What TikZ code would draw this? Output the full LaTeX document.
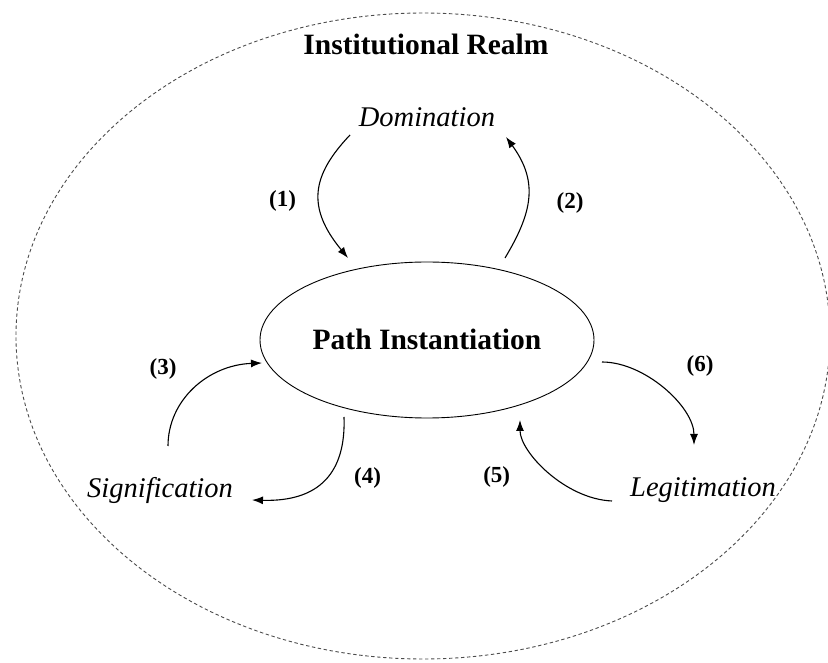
\documentclass[tikz,border=0pt]{standalone}
\usepackage{fontspec}
\setmainfont{Liberation Serif}
\usetikzlibrary{shapes.geometric,arrows.meta}
\begin{document}
\begin{tikzpicture}[x=1pt,y=1pt,
  realm/.style={ellipse,draw=black!70,dash pattern=on 3.4pt off 2.6pt,line width=0.9pt,
    minimum width=814pt,minimum height=646pt,inner sep=0pt},
  core/.style={ellipse,draw,line width=0.9pt,minimum width=334pt,minimum height=156pt,inner sep=0pt},
  heading/.style={font=\fontsize{29.5}{34}\selectfont\bfseries,anchor=base,inner sep=0pt},
  facet/.style={font=\fontsize{28.5}{34}\selectfont\itshape,anchor=base,inner sep=0pt},
  num/.style={font=\fontsize{23}{27}\selectfont\bfseries,inner sep=0pt},
  flow/.style={line width=1.1pt,-{Latex[length=11pt,width=8pt]}}]
\useasboundingbox (0,0) rectangle (828,662);

% outer realm and central process
\node[realm] (realm) at (423,326) {};
\node[core] (pi) at (427,322) {};
\node[heading] (title) at (426,607) {Institutional Realm};
\node[heading] (pitext) at (427,312) {Path Instantiation};

% the three structural facets
\node[facet] (dom) at (427,535) {Domination};
\node[facet] (sig) at (160,164) {Signification};
\node[facet] (leg) at (703,165) {Legitimation};

% connector end points
\coordinate (a1s) at (350,527);
\coordinate (a1e) at (348,404);
\coordinate (a2s) at (505,404);
\coordinate (a2e) at (506,525);
\coordinate (a3s) at (168,216);
\coordinate (a3e) at (262,299);
\coordinate (a4s) at (344,245);
\coordinate (a4e) at (252,162);
\coordinate (a5s) at (612,161);
\coordinate (a5e) at (520,242);
\coordinate (a6s) at (602,300);
\coordinate (a6e) at (694,217);

% flows between the facets and the core
\draw[flow] (a1s) .. controls (312,487) and (306,455) .. (a1e);
\draw[flow] (a2s) .. controls (532,449) and (539,480) .. (a2e);
\draw[flow] (a3s) .. controls (168,262) and (208,297) .. (a3e);
\draw[flow] (a4s) .. controls (346,190) and (320,160) .. (a4e);
\draw[flow] (a5s) .. controls (565,163) and (520,210) .. (a5e);
\draw[flow] (a6s) .. controls (645,300) and (694,255) .. (a6e);

% flow numbers
\node[num] (n1) at (282.5,461) {(1)};
\node[num] (n2) at (570,459.5) {(2)};
\node[num] (n3) at (163,293) {(3)};
\node[num] (n4) at (367.5,184.5) {(4)};
\node[num] (n5) at (496.7,185.3) {(5)};
\node[num] (n6) at (700,296) {(6)};
\end{tikzpicture}
\end{document}
